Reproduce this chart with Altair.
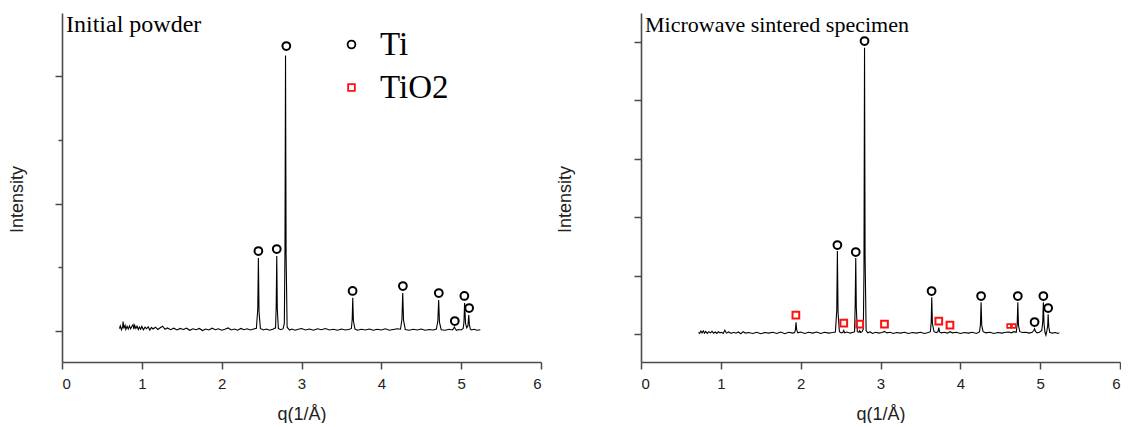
import altair as alt
import pandas as pd

# ---------------- data ----------------
left_q = [
    0.72, 0.73, 0.745, 0.76, 0.765, 0.775, 0.79, 0.80, 0.815, 0.83,
    0.845, 0.86, 0.875, 0.89, 0.90, 0.91, 0.925, 0.94, 0.955, 0.97,
    0.985, 1.00, 1.02, 1.04, 1.06, 1.08, 1.10, 1.12, 1.14, 1.17,
    1.20, 1.23, 1.26, 1.29, 1.32, 1.36, 1.40, 1.44, 1.48, 1.52,
    1.56, 1.60, 1.64, 1.68, 1.72, 1.76, 1.80, 1.84, 1.88, 1.92,
    1.96, 2.00, 2.04, 2.08, 2.12, 2.16, 2.20, 2.24, 2.28, 2.32,
    2.36, 2.40, 2.435, 2.452, 2.46, 2.468, 2.485, 2.52, 2.56, 2.60,
    2.64, 2.675, 2.683, 2.69, 2.697, 2.71, 2.74, 2.77, 2.785, 2.793,
    2.80, 2.807, 2.82, 2.85, 2.88, 2.92, 2.96, 3.00, 3.05, 3.10,
    3.15, 3.20, 3.25, 3.30, 3.35, 3.40, 3.45, 3.50, 3.55, 3.60,
    3.625, 3.635, 3.642, 3.65, 3.67, 3.70, 3.75, 3.80, 3.85, 3.90,
    3.95, 4.00, 4.05, 4.10, 4.15, 4.20, 4.24, 4.258, 4.268, 4.278,
    4.30, 4.35, 4.40, 4.45, 4.50, 4.55, 4.60, 4.65, 4.69, 4.708,
    4.718, 4.728, 4.75, 4.80, 4.85, 4.89, 4.905, 4.915, 4.925, 4.94,
    4.97, 5.00, 5.025, 5.035, 5.043, 5.055, 5.07, 5.085, 5.095, 5.103,
    5.115, 5.13, 5.16, 5.20, 5.24,
]
left_int = [
    18, 40, 10, 35, 75, 20, 45, 12, 38, 15,
    40, 18, 35, 50, 15, 45, 20, 38, 12, 32,
    14, 36, 10, 30, 18, 34, 8, 28, 16, 30,
    12, 26, 38, 14, 24, 10, 22, 8, 20, 12,
    22, 6, 18, 10, 20, 4, 16, 8, 22, 10,
    18, 6, 14, 24, 8, 16, 6, 20, 10, 18,
    8, 16, 22, 170, 572, 150, 20, 8, 16, 6,
    14, 25, 190, 588, 170, 20, 10, 18, 60, 640,
    2160, 600, 30, 8, 16, 6, 14, 20, 8, 16,
    6, 18, 10, 20, 8, 14, 6, 16, 8, 14,
    20, 90, 260, 80, 15, 6, 14, 8, 16, 6,
    14, 8, 18, 6, 12, 18, 14, 90, 298, 85,
    12, 6, 14, 8, 16, 6, 12, 8, 16, 80,
    243, 70, 10, 6, 14, 8, 18, 32, 20, 6,
    12, 8, 20, 70, 220, 60, 25, 40, 125, 50,
    15, 8, 14, 6, 10,
]

right_q = [
    0.72, 0.735, 0.75, 0.765, 0.78, 0.795, 0.81, 0.83, 0.85, 0.87,
    0.89, 0.91, 0.93, 0.95, 0.97, 0.99, 1.01, 1.03, 1.05, 1.07,
    1.10, 1.13, 1.16, 1.19, 1.22, 1.25, 1.28, 1.31, 1.35, 1.40,
    1.45, 1.50, 1.55, 1.60, 1.65, 1.70, 1.75, 1.80, 1.85, 1.90,
    1.925, 1.935, 1.942, 1.95, 1.965, 2.00, 2.05, 2.10, 2.15, 2.20,
    2.25, 2.30, 2.35, 2.40, 2.435, 2.452, 2.46, 2.468, 2.485, 2.51,
    2.53, 2.54, 2.55, 2.58, 2.62, 2.66, 2.675, 2.683, 2.69, 2.697,
    2.71, 2.73, 2.74, 2.75, 2.77, 2.785, 2.793, 2.80, 2.807, 2.82,
    2.84, 2.87, 2.90, 2.94, 2.98, 3.02, 3.05, 3.08, 3.12, 3.16,
    3.20, 3.25, 3.30, 3.35, 3.40, 3.45, 3.50, 3.55, 3.60, 3.625,
    3.635, 3.642, 3.65, 3.67, 3.70, 3.72, 3.73, 3.74, 3.76, 3.80,
    3.84, 3.87, 3.90, 3.95, 4.00, 4.05, 4.10, 4.15, 4.20, 4.24,
    4.252, 4.26, 4.268, 4.285, 4.32, 4.37, 4.42, 4.47, 4.52, 4.57,
    4.61, 4.64, 4.67, 4.70, 4.712, 4.72, 4.728, 4.745, 4.78, 4.82,
    4.86, 4.90, 4.92, 4.93, 4.94, 4.96, 4.99, 5.02, 5.032, 5.04,
    5.048, 5.06, 5.072, 5.085, 5.095, 5.10, 5.108, 5.12, 5.15, 5.19,
    5.22, 5.24,
]
right_int = [
    30, 10, 50, 20, 55, 15, 45, 10, 40, 20,
    45, 15, 35, 10, 40, 20, 30, 10, 65, 15,
    35, 10, 30, 15, 35, 5, 40, 15, 25, 10,
    30, 5, 25, 15, 30, 10, 35, 5, 30, 15,
    25, 80, 200, 70, 20, 35, 10, 30, 15, 35,
    10, 30, 15, 25, 35, 400, 1420, 380, 40, 20,
    30, 60, 20, 35, 15, 30, 40, 500, 1300, 450,
    40, 30, 55, 25, 40, 90, 1100, 4900, 1300, 60,
    20, 35, 10, 30, 15, 25, 45, 20, 30, 10,
    25, 15, 30, 10, 25, 15, 30, 10, 25, 40,
    200, 630, 180, 40, 25, 40, 110, 35, 20, 30,
    15, 40, 20, 30, 10, 25, 15, 30, 10, 35,
    160, 545, 150, 40, 20, 30, 10, 25, 15, 30,
    35, 20, 40, 30, 160, 545, 150, 40, 25, 30,
    15, 30, 60, 90, 50, 20, 30, 60, 200, 545,
    180, 30, -20, 60, 150, 340, 120, 30, 15, 25,
    10, 20,
]

# peak markers (marker centre heights)
left_ti_q = [2.46, 2.69, 2.81, 3.64, 4.27, 4.72, 4.92, 5.04, 5.10]
left_ti_y = [627, 643, 2235, 314, 353, 298, 78, 275, 180]
right_ti_q = [2.46, 2.69, 2.80, 3.64, 4.26, 4.72, 4.93, 5.04, 5.10]
right_ti_y = [1524, 1404, 5017, 736, 651, 651, 205, 651, 445]
right_tio2_q = [1.94, 2.54, 2.74, 3.05, 3.73, 3.87]
right_tio2_y = [325, 188, 171, 171, 222, 154]
right_tio2_minor_q = [4.61, 4.67]
right_tio2_minor_y = [137, 137]

phases = ["Ti", "TiO2"]
phase_colors = ["black", "#ff1010"]
phase_shapes = ["circle", "square"]

x_tick_values = [0, 0.5, 1, 1.5, 2, 2.5, 3, 3.5, 4, 4.5, 5, 5.5, 6]
left_y_ticks = [0, 500, 1000, 1500, 2000]
right_y_ticks = [0, 500, 1000, 1500, 2000, 2500, 3000, 3500, 4000, 4500, 5000]
left_y_domain = [-243, 2494]
right_y_domain = [-479, 5497]

panel_titles = ["Initial powder", "Microwave sintered specimen"]

# ---------------- styling ----------------
W, H = 479, 349
AX = "#4a4a4a"
SANS = "Liberation Sans"
SERIF = "Liberation Serif"


def x_enc():
    return alt.X(
        "q:Q",
        scale=alt.Scale(domain=[0, 6], nice=False, zero=False),
        axis=alt.Axis(
            values=x_tick_values,
            labelExpr="datum.value % 1 === 0 ? format(datum.value, 'd') : ''",
            tickSize={"condition": {"test": "datum.value % 1 === 0", "value": 7}, "value": 5},
            title="q(1/Å)",
            labelPadding=7,
            titlePadding=14,
        ),
    )


def y_enc(domain, ticks, pad):
    return alt.Y(
        "I:Q",
        scale=alt.Scale(domain=domain, nice=False, zero=False),
        axis=alt.Axis(
            values=ticks,
            labels=False,
            tickSize={"condition": {"test": "datum.value % 1000 === 0", "value": 7}, "value": 4},
            title="Intensity",
            titlePadding=pad,
            titleY=186,
        ),
    )


def panel(q, inten, domain, ticks, title_pad, markers, extra, title, title_size, show_legend):
    line = alt.Chart(pd.DataFrame({"q": q, "I": inten})).mark_line(
        color="black", strokeWidth=1.1
    ).encode(x=x_enc(), y=y_enc(domain, ticks, title_pad))

    leg = (
        alt.Legend(
            orient="none", legendX=273, legendY=15, title=None,
            labelFont=SERIF, labelFontSize=33, labelColor="black",
            symbolSize=34, symbolStrokeWidth=1.8, labelOffset=12, rowPadding=9,
            direction="vertical",
        )
        if show_legend else None
    )
    pts = alt.Chart(markers).mark_point(filled=False, strokeWidth=2, opacity=1).encode(
        x="q:Q", y="I:Q",
        color=alt.Color("phase:N", scale=alt.Scale(domain=phases, range=phase_colors), legend=leg),
        shape=alt.Shape("phase:N", scale=alt.Scale(domain=phases, range=phase_shapes), legend=leg),
        size=alt.Size("phase:N", scale=alt.Scale(domain=phases, range=[60, 45]), legend=None),
    )
    layers = [line, pts]
    if extra is not None:
        layers.append(
            alt.Chart(extra).mark_point(filled=False, strokeWidth=1.6, color="#ff1010",
                                        shape="square", size=14, opacity=1).encode(x="q:Q", y="I:Q")
        )
    lab = alt.Chart(pd.DataFrame({"t": [title]})).mark_text(
        align="left", baseline="alphabetic", font=SERIF, fontSize=title_size, color="black"
    ).encode(x=alt.value(4), y=alt.value(19), text="t:N")
    layers.append(lab)
    return alt.layer(*layers).properties(width=W, height=H)


left_markers = pd.DataFrame({"q": left_ti_q, "I": left_ti_y, "phase": ["Ti"] * len(left_ti_q)})
right_markers = pd.DataFrame({
    "q": right_ti_q + right_tio2_q,
    "I": right_ti_y + right_tio2_y,
    "phase": ["Ti"] * len(right_ti_q) + ["TiO2"] * len(right_tio2_q),
})
right_minor = pd.DataFrame({"q": right_tio2_minor_q, "I": right_tio2_minor_y})

left = panel(left_q, left_int, left_y_domain, left_y_ticks, 28, left_markers, None, panel_titles[0], 24, True)
right = panel(right_q, right_int, right_y_domain, right_y_ticks, 59, right_markers, right_minor, panel_titles[1], 22, False)

chart = (
    alt.hconcat(left, right, spacing=100, bounds="flush")
    .resolve_scale(color="independent", shape="independent", size="independent")
    .resolve_legend(color="independent", shape="independent")
    .properties(padding={"left": 0, "top": 5, "right": 0, "bottom": 0}, background="white")
    .configure_view(stroke=None)
    .configure_axis(
        grid=False, domainColor=AX, domainWidth=1.6, tickColor=AX, tickWidth=1.5,
        labelFont=SANS, labelFontSize=15, labelColor="#222",
        titleFont=SANS, titleFontSize=18, titleFontWeight="normal", titleColor="#222",
    )
)

chart.save("out.html", embed_options={"renderer": "svg", "actions": False})
